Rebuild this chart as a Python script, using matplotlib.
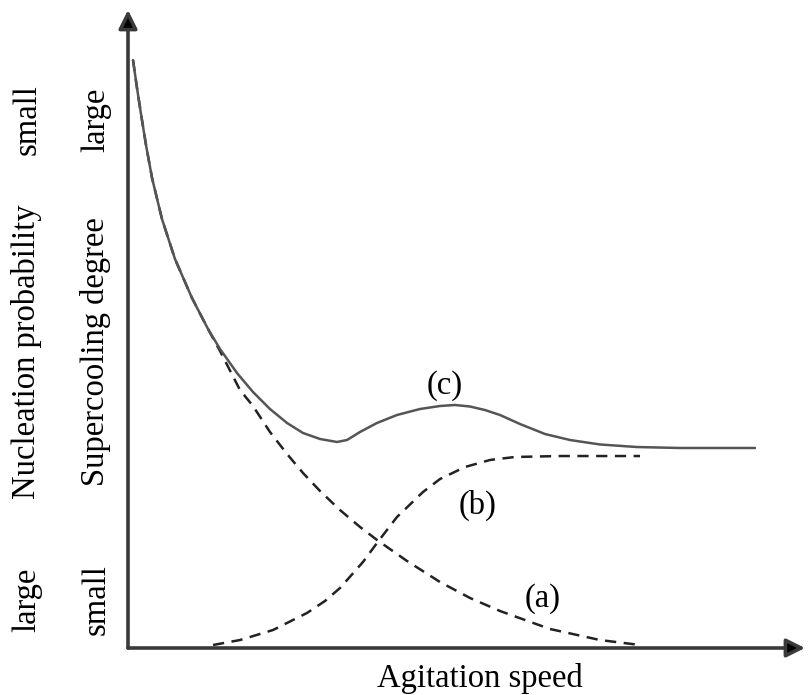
import matplotlib
matplotlib.use("Agg")
import matplotlib.pyplot as plt

# Curve (a): supercooling-driven contribution, decreasing with agitation speed
a_x = [0.74, 1.33, 1.92, 2.66, 3.55, 5.02, 6.94, 9.45, 11.82, 13.59, 16.54,
       18.46, 20.97, 23.49, 25.85, 28.36, 31.31, 34.27, 36.78, 41.21, 46.09,
       50.52, 54.95, 62.33, 69.72, 75.63]
a_y = [92.16, 87.77, 83.70, 78.84, 73.67, 67.24, 60.97, 54.86, 50.00, 46.55,
       40.44, 37.93, 33.86, 30.41, 27.43, 24.61, 21.63, 18.97, 16.93, 13.64,
       10.34, 7.84, 5.80, 2.98, 1.25, 0.47]

# Curve (b): agitation-driven contribution, sigmoid rise
b_x = [12.56, 16.54, 21.42, 26.44, 29.10, 31.31, 34.71, 36.78, 39.73, 43.57,
       46.09, 49.78, 53.47, 57.16, 63.81, 75.63]
b_y = [0.47, 1.25, 2.82, 5.49, 7.37, 9.40, 13.48, 16.46, 20.53, 24.45,
       26.49, 28.37, 29.47, 29.94, 30.09, 30.09]

# Curve (c): combined supercooling degree
c_x = [0.74, 1.33, 1.92, 2.66, 3.55, 5.02, 6.94, 9.45, 11.82, 13.59, 16.10,
       18.46, 20.97, 23.49, 25.85, 28.36, 30.87, 32.35, 34.27, 36.78, 39.73,
       43.13, 46.09, 48.30, 50.52, 52.73, 54.95, 57.90, 61.60, 65.29, 69.72,
       75.18, 81.54, 92.61]
c_y = [92.16, 87.77, 83.70, 78.84, 73.67, 67.24, 60.97, 54.86, 50.00, 46.87,
       43.10, 40.13, 37.46, 35.27, 33.70, 32.76, 32.29, 32.60, 33.86, 35.27,
       36.52, 37.46, 37.93, 38.09, 37.85, 37.30, 36.52, 35.11, 33.54, 32.60,
       31.90, 31.50, 31.35, 31.35]

curve_labels = ["(a)", "(b)", "(c)"]
curve_label_pos = [(61.3, 7.8), (51.7, 22.4), (46.8, 41.2)]

x_title = "Agitation speed"
y_titles = ["Nucleation probability", "Supercooling degree"]
y_top_words = ["small", "large"]
y_bottom_words = ["large", "small"]

W, H = 809, 695
fig = plt.figure(figsize=(W / 100, H / 100), dpi=100)
plt.rcParams["font.family"] = ["Liberation Serif", "DejaVu Serif"]

left, right, bottom, top = 128, 805, 648, 10
ax = fig.add_axes([left / W, (H - bottom) / H, (right - left) / W, (bottom - top) / H])
ax.set_xlim(0, 100)
ax.set_ylim(0, 100)
ax.axis("off")

axis_color = "#3a3a3a"
# axes with arrowheads
for tip in [(0, 100), (100, 0)]:
    ax.annotate("", xy=tip, xytext=(0, 0),
                arrowprops=dict(arrowstyle="-|>", mutation_scale=28, lw=2.6,
                                color=axis_color, fc="black", shrinkA=0, shrinkB=0),
                annotation_clip=False)

dash = (0, (4.5, 3))
ax.plot(a_x, a_y, color="#222222", lw=1.8, ls=dash, clip_on=False,
        dash_capstyle="butt", dash_joinstyle="round")
ax.plot(b_x, b_y, color="#222222", lw=1.8, ls=dash, clip_on=False,
        dash_capstyle="butt", dash_joinstyle="round")
ax.plot(c_x, c_y, color="#555555", lw=1.8, clip_on=False,
        solid_joinstyle="round", solid_capstyle="round")

fs = 23.5
for lab, (lx, ly) in zip(curve_labels, curve_label_pos):
    ax.text(lx, ly, lab, fontsize=fs, ha="center", va="center")

fig.text(480 / W, 1 - 678 / H, x_title, fontsize=fs, ha="center", va="center")

col_x = [27, 96]
for i, xc in enumerate(col_x):
    fig.text(xc / W, 1 - 352 / H, y_titles[i], fontsize=fs, rotation=90,
             ha="center", va="center")
    fig.text(xc / W, 1 - 120 / H, y_top_words[i], fontsize=fs, rotation=90,
             ha="center", va="center")
    fig.text(xc / W, 1 - 600 / H, y_bottom_words[i], fontsize=fs, rotation=90,
             ha="center", va="center")

fig.savefig("out.png", dpi=100, facecolor="white")
